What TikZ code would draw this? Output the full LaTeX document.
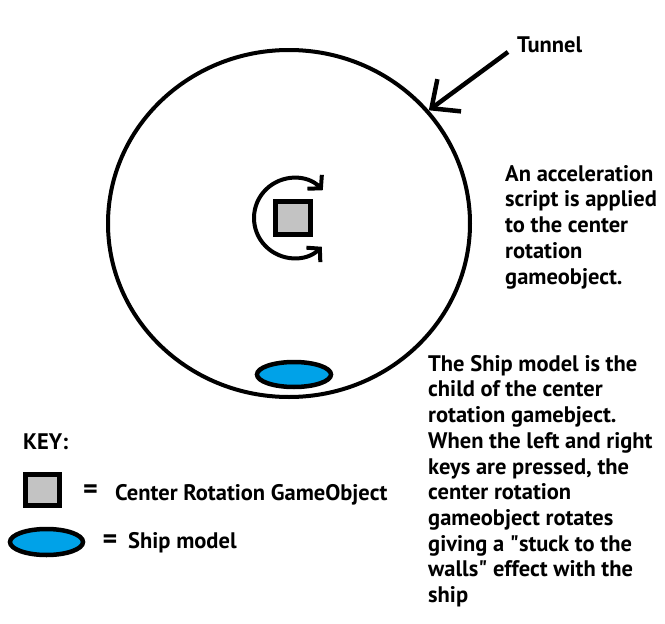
\documentclass[tikz,border=0pt]{standalone}
\usepackage{fontspec}
\setmainfont{PT Sans}
\usetikzlibrary{arrows.meta,shapes.geometric}
\definecolor{shipblue}{RGB}{0,162,232}
\definecolor{boxgray}{RGB}{195,195,195}
\tikzset{
  txt/.style      ={font=\bfseries\fontsize{22.5}{25.7}\selectfont, inner sep=0pt, align=left},
  eqsign/.style   ={font=\bfseries\fontsize{28}{28}\selectfont, inner sep=0pt},
  tunnelring/.style={draw, ellipse, line width=4pt, inner sep=0pt},
  boxshape/.style ={draw, fill=boxgray, line width=5pt, inner sep=0pt},
  shipshape/.style={draw, ellipse, fill=shipblue, line width=4.5pt, inner sep=0pt},
  tunarrow/.style ={-{Straight Barb[length=22pt, width=40pt]}, line width=4.5pt},
  rotarrow/.style ={{Straight Barb[length=9pt, width=20pt]}-{Straight Barb[length=9pt, width=20pt]}, line width=4pt},
}
\begin{document}
\begin{tikzpicture}[x=1pt,y=1pt]
\useasboundingbox (0,0) rectangle (665,-624);
% tunnel with the rotating center and the ship
\node[tunnelring, minimum width=362pt, minimum height=347pt] (tunnel) at (289,-223.5) {};
\node[boxshape, minimum width=35pt, minimum height=33pt] (ctr) at (293,-218) {};
\draw[rotarrow] ([shift={(44:40)}]294,-218) arc[start angle=44, end angle=314, radius=40];
\node[shipshape, minimum width=74pt, minimum height=25pt] (ship) at (294,-374.5) {};

\node[txt, anchor=base west] (tunnellbl) at (517,-52) {Tunnel};
\coordinate (tunneltail) at (508,-52);
\draw[tunarrow] (tunneltail) -- (tunnel.39);

% notes
\node[txt, anchor=north west] (accel) at (505,-165)
  {An acceleration\\ script is applied\\ to the center\\ rotation\\ gameobject.};
\node[txt, anchor=north west] (shipnote) at (428,-355)
  {The Ship model is the\\ child of the center\\ rotation gamebject.\\ When the left and right\\
   keys are pressed, the\\ center rotation\\ gameobject rotates\\ giving a \textquotedbl stuck to the\\
   walls\textquotedbl{} effect with the\\ ship};

% key
\node[txt, anchor=base west] (keylbl) at (23,-449) {KEY:};
\node[boxshape, minimum width=34pt, minimum height=31pt] (keybox) at (42.5,-490) {};
\node[eqsign] (keyeq1) at (90.5,-492) {=};
\node[txt, anchor=base west] (keytxt1) at (115,-500) {Center Rotation GameObject};
\node[shipshape, minimum width=73pt, minimum height=26pt] (keyship) at (46.5,-542) {};
\node[eqsign] (keyeq2) at (110,-542) {=};
\node[txt, anchor=base west] (keytxt2) at (128,-548) {Ship model};
\end{tikzpicture}
\end{document}
